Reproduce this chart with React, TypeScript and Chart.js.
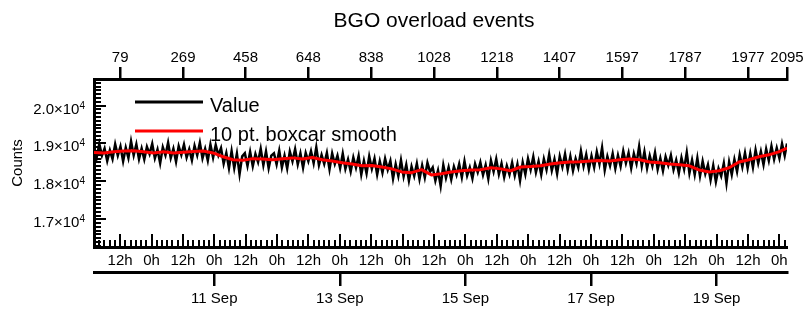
import React, { useEffect, useRef } from "react";
import { Chart, registerables } from "chart.js";

Chart.register(...registerables);

const TITLE = "BGO overload events";
const Y_TITLE = "Counts";
const SERIES_NAMES = ["Value", "10 pt. boxcar smooth"];

// point index axis (top)
const LAST_INDEX = 2095;
const VALUE_STEP = 8;
const SMOOTH_STEP = 30;

const VALUES = [
  18920, 18630, 18990, 18680, 18870, 18540, 18820, 18590, 18980, 18680, 18920, 18530,
  18890, 18620, 19060, 18690, 18980, 18590, 18870, 18580, 18910, 18720, 18990,
  18610, 18840, 18480, 18900, 18690, 19020, 18620, 18860, 18520, 18930, 18700,
  18970, 18630, 18850, 18560, 18940, 18690, 19020, 18610, 18860, 18550, 18970,
  18630, 18960, 18690, 18880, 18470, 18750, 18350, 18800, 18350, 18730, 18190, 18660,
  18740, 18410, 18780, 18400, 18720, 18510, 18860, 18430, 18790, 18350, 18680,
  18740, 18450, 18810, 18370, 18680, 18340, 18790, 18530, 18850, 18450, 18740,
  18360, 18750, 18530, 18800, 18480, 18900, 18430, 18700, 18460, 18750, 18320,
  18740, 18460, 18680, 18350, 18730, 18330, 18580, 18260, 18630, 18360, 18670, 18180,
  18540, 18210, 18660, 18330, 18600, 18180, 18530, 18230, 18600, 18310, 18540,
  18070, 18450, 18140, 18560, 18130, 18440, 18020, 18390, 18140, 18470, 18060,
  18420, 18100, 18490, 18250, 18370, 18020, 18290, 17880, 18430, 18090, 18370,
  18050, 18390, 18170, 18460, 18110, 18530, 18150, 18370, 18080, 18460, 18240, 18500,
  18170, 18430, 18070, 18550, 18260, 18590, 18190, 18470, 18110, 18410, 18180,
  18490, 18150, 18450, 18020, 18500, 18190, 18600, 18310, 18650, 18240, 18530,
  18180, 18590, 18310, 18710, 18290, 18580, 18200, 18660, 18380, 18720, 18310,
  18660, 18280, 18600, 18370, 18800, 18400, 18710, 18320, 18670, 18370, 18780, 18460,
  18890, 18300, 18660, 18410, 18730, 18340, 18690, 18400, 18800, 18480, 18750,
  18350, 18730, 18470, 18920, 18410, 18780, 18350, 18680, 18410, 18760, 18320,
  18610, 18280, 18650, 18420, 18690, 18310, 18560, 18220, 18620, 18320, 18760,
  18220, 18560, 18180, 18610, 18140, 18530, 18200, 18440, 18040, 18420, 17990, 18340,
  18140, 18480, 17950, 18510, 18180, 18580, 18260, 18700, 18380, 18750, 18350,
  18740, 18370, 18830, 18480, 18790, 18440, 18850, 18550, 18930, 18580, 18880,
  18610, 18990, 18680, 19000,
];

const SMOOTH = [
  18760, 18750, 18780, 18800, 18810, 18780, 18750, 18780, 18750, 18770,
  18790, 18800, 18750, 18650, 18570, 18560, 18600, 18590, 18570, 18600,
  18620, 18590, 18630, 18570, 18540, 18490, 18460, 18410, 18420, 18380,
  18330, 18250, 18230, 18310, 18170, 18200, 18250, 18280, 18300, 18310,
  18360, 18330, 18280, 18380, 18390, 18410, 18460, 18490, 18510, 18520,
  18540, 18550, 18540, 18570, 18590, 18570, 18510, 18490, 18460, 18440,
  18410, 18300, 18250, 18280, 18360, 18510, 18570, 18650, 18700, 18780,
  18880,
];

const TOP_TICKS = [79, 269, 458, 648, 838, 1028, 1218, 1407, 1597, 1787, 1977, 2095];

const Y_MIN = 16270;
const Y_MAX = 20700;
const Y_TICKS = [17000, 18000, 19000, 20000];
const Y_LABELS = ["1.7×10", "1.8×10", "1.9×10", "2.0×10"];
const Y_EXPONENT = "4";

// time axis, hours since 9 Sep 00:00
const HOUR_MIN = 2.01;
const HOUR_MAX = 266.92;
const HOUR_TICKS = [12, 24, 36, 48, 60, 72, 84, 96, 108, 120, 132, 144, 156, 168, 180, 192, 204, 216, 228, 240, 252, 264];
const HOUR_LABELS = ["12h", "0h", "12h", "0h", "12h", "0h", "12h", "0h", "12h", "0h", "12h", "0h", "12h", "0h", "12h", "0h", "12h", "0h", "12h", "0h", "12h", "0h"];
const DATE_HOURS = [48, 96, 144, 192, 240];
const DATE_LABELS = ["11 Sep", "13 Sep", "15 Sep", "17 Sep", "19 Sep"];

const FONT = "'Liberation Sans', Arial, Helvetica, sans-serif";

const decorPlugin = {
  id: "decor",
  beforeDatasetsDraw(chart: any) {
    const ctx = chart.ctx;
    const { left, bottom } = chart.chartArea;
    const ys = chart.scales.y;
    const xh = chart.scales.xh;
    ctx.save();
    ctx.strokeStyle = "#000";
    ctx.lineWidth = 2;
    ctx.beginPath();
    for (let v = 16300; v < Y_MAX; v += 100) {
      const py = Math.round(ys.getPixelForValue(v));
      const len = v % 1000 === 0 ? 12 : 7;
      ctx.moveTo(left, py);
      ctx.lineTo(left + len, py);
    }
    for (let h = 4; h <= HOUR_MAX; h += 2) {
      const px = Math.round(xh.getPixelForValue(h));
      const len = h % 12 === 0 ? 13 : 7;
      ctx.moveTo(px, bottom);
      ctx.lineTo(px, bottom - len);
    }
    ctx.stroke();

    // y tick labels with superscript exponent
    ctx.fillStyle = "#000";
    ctx.textBaseline = "alphabetic";
    ctx.font = `10px ${FONT}`;
    const supW = ctx.measureText(Y_EXPONENT).width;
    const rightEdge = left - 9;
    for (let i = 0; i < Y_TICKS.length; i++) {
      const py = ys.getPixelForValue(Y_TICKS[i]);
      ctx.font = `15px ${FONT}`;
      ctx.textAlign = "right";
      ctx.fillText(Y_LABELS[i], rightEdge - supW, py + 8);
      ctx.font = `10px ${FONT}`;
      ctx.textAlign = "left";
      ctx.fillText(Y_EXPONENT, rightEdge - supW, py + 3);
    }
    ctx.restore();
  },
  afterDraw(chart: any) {
    const ctx = chart.ctx;
    ctx.save();
    // title
    ctx.fillStyle = "#000";
    ctx.font = `21px ${FONT}`;
    ctx.textAlign = "center";
    ctx.textBaseline = "alphabetic";
    ctx.fillText(TITLE, 434, 27);
    // legend
    const colors = ["#000000", "#ff0000"];
    const rows = [102, 131];
    ctx.font = `20px ${FONT}`;
    ctx.lineWidth = 3;
    ctx.textAlign = "left";
    for (let i = 0; i < 2; i++) {
      ctx.strokeStyle = colors[i];
      ctx.beginPath();
      ctx.moveTo(135, rows[i]);
      ctx.lineTo(203, rows[i]);
      ctx.stroke();
      ctx.fillStyle = "#000";
      ctx.fillText(SERIES_NAMES[i], 210, rows[i] + 10);
    }
    ctx.restore();
  },
};

export default function App() {
  const ref = useRef<HTMLCanvasElement | null>(null);

  useEffect(() => {
    if (!ref.current) return;
    Chart.defaults.font.family = FONT;
    Chart.defaults.color = "#000";

    const valueData = VALUES.map((v, j) => ({ x: Math.min(j * VALUE_STEP, LAST_INDEX), y: v }));
    const smoothData = SMOOTH.map((v, k) => ({ x: Math.min(k * SMOOTH_STEP, LAST_INDEX), y: v }));

    const chart = new Chart(ref.current, {
      type: "line",
      data: {
        datasets: [
          {
            label: SERIES_NAMES[0],
            data: valueData,
            borderColor: "#000000",
            borderWidth: 2.5,
            borderJoinStyle: "miter",
            pointRadius: 0,
            tension: 0,
            xAxisID: "x",
            yAxisID: "y",
            order: 2,
          },
          {
            label: SERIES_NAMES[1],
            data: smoothData,
            borderColor: "#ff0000",
            borderWidth: 3,
            borderJoinStyle: "round",
            pointRadius: 0,
            tension: 0,
            xAxisID: "x",
            yAxisID: "y",
            order: 1,
          },
        ],
      },
      options: {
        responsive: false,
        maintainAspectRatio: false,
        devicePixelRatio: 1,
        animation: false,
        events: [],
        layout: { padding: { left: 0, right: 20, top: 0, bottom: 0 } },
        plugins: { legend: { display: false }, tooltip: { enabled: false }, title: { display: false } },
        scales: {
          x: {
            type: "linear",
            position: "top",
            min: 0,
            max: LAST_INDEX,
            afterFit: (s: any) => { s.height = 79; },
            afterBuildTicks: (s: any) => { s.ticks = TOP_TICKS.map((v) => ({ value: v })); },
            grid: { display: true, drawOnChartArea: false, drawTicks: true, tickLength: 12, lineWidth: 2.5, color: "#000" },
            border: { display: true, width: 3, color: "#000" },
            ticks: {
              autoSkip: false, maxRotation: 0, minRotation: 0, padding: 0,
              font: { size: 15, family: FONT }, color: "#000",
              callback: (v: any) => String(v),
            },
          },
          y: {
            type: "linear",
            position: "left",
            min: Y_MIN,
            max: Y_MAX,
            afterFit: (s: any) => { s.width = 94; },
            afterBuildTicks: (s: any) => { s.ticks = Y_TICKS.map((v) => ({ value: v })); },
            grid: { display: false, drawTicks: false, drawOnChartArea: false },
            border: { display: true, width: 3, color: "#000" },
            title: { display: true, text: Y_TITLE, font: { size: 15, family: FONT }, color: "#000", padding: { top: 8.5, bottom: 0 } },
            ticks: { display: false },
          },
          xh: {
            type: "linear",
            position: "bottom",
            weight: 0,
            min: HOUR_MIN,
            max: HOUR_MAX,
            afterFit: (s: any) => { s.height = 25; },
            afterBuildTicks: (s: any) => { s.ticks = HOUR_TICKS.map((v) => ({ value: v })); },
            grid: { display: false, drawTicks: false, drawOnChartArea: false },
            border: { display: true, width: 3, color: "#000" },
            ticks: {
              autoSkip: false, maxRotation: 0, minRotation: 0, padding: 5,
              font: { size: 15, family: FONT }, color: "#000",
              callback: (v: any) => HOUR_LABELS[HOUR_TICKS.indexOf(Number(v))] ?? "",
            },
          },
          xd: {
            type: "linear",
            position: "bottom",
            weight: 1,
            min: HOUR_MIN,
            max: HOUR_MAX,
            afterFit: (s: any) => { s.height = 41; },
            afterBuildTicks: (s: any) => { s.ticks = DATE_HOURS.map((v) => ({ value: v })); },
            grid: { display: true, drawOnChartArea: false, drawTicks: true, tickLength: 14, lineWidth: 2.5, color: "#000" },
            border: { display: true, width: 3, color: "#000" },
            ticks: {
              autoSkip: false, maxRotation: 0, minRotation: 0, padding: 4,
              font: { size: 15, family: FONT }, color: "#000",
              callback: (v: any) => DATE_LABELS[DATE_HOURS.indexOf(Number(v))] ?? "",
            },
          },
        },
      } as any,
      plugins: [decorPlugin],
    });

    return () => chart.destroy();
  }, []);

  return (
    <div style={{ position: "fixed", left: 0, top: 0, width: 807, height: 313, background: "#fff" }}>
      <canvas ref={ref} width={807} height={313} style={{ display: "block", width: 807, height: 313 }} />
    </div>
  );
}
